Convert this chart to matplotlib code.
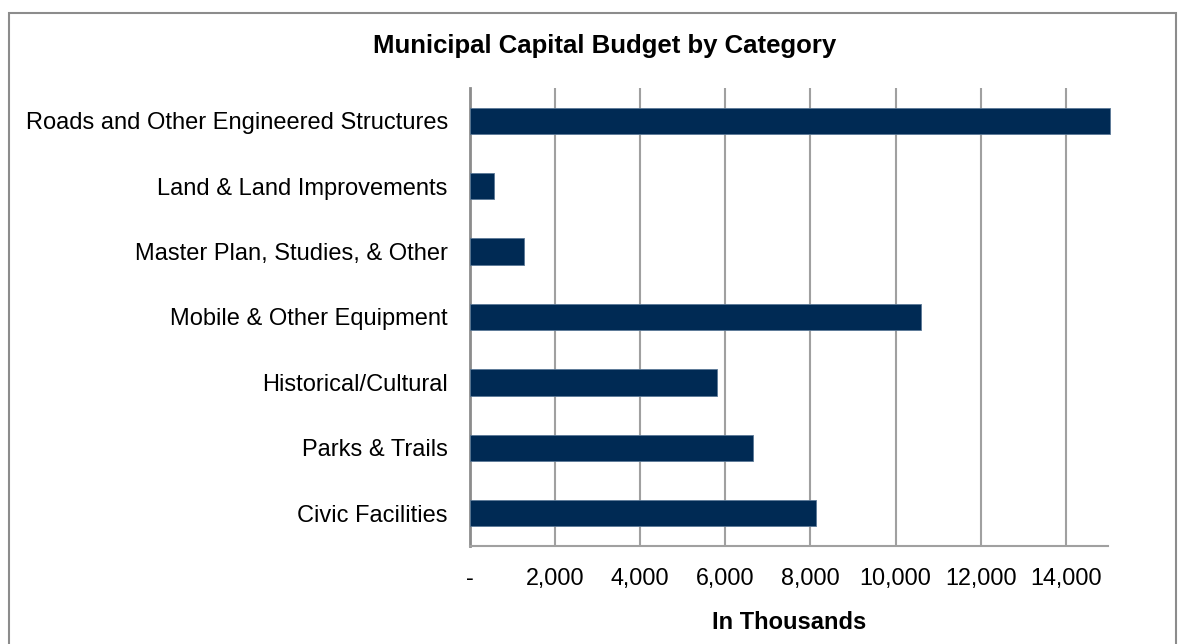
import matplotlib.pyplot as plt
from matplotlib.ticker import FuncFormatter
from matplotlib.patches import Rectangle

plt.rcParams['font.family'] = ['Liberation Sans', 'DejaVu Sans']

# data, top to bottom as shown
categories = ['Roads and Other Engineered Structures', 'Land & Land Improvements',
	'Master Plan, Studies, & Other', 'Mobile & Other Equipment',
	'Historical/Cultural', 'Parks & Trails', 'Civic Facilities']
values = [15050, 570, 1260, 10610, 5810, 6650, 8130]
xticks = [0, 2000, 4000, 6000, 8000, 10000, 12000, 14000]

W, H = 1186, 644
fig = plt.figure(figsize=(W/100, H/100), dpi=100)
ax = fig.add_axes([470/W, 1-546/H, (1108.3-470)/W, (546-88)/H])

ypos = range(len(categories))[::-1]
ax.barh(list(ypos), values, height=0.4, color='#002a54', edgecolor='#5a7896',
	linewidth=0.6, zorder=3, clip_on=False)

ax.set_xlim(0, 15000)
ax.set_ylim(-0.5, len(categories)-0.5)
ax.set_yticks(list(ypos))
ax.set_yticklabels(categories, fontsize=17)
ax.set_xticks(xticks)
ax.xaxis.set_major_formatter(FuncFormatter(lambda v, p: '-' if v == 0 else '{:,.0f}'.format(v)))
ax.tick_params(axis='x', labelsize=16.8, length=0, pad=15)
ax.tick_params(axis='y', length=0, pad=16)
ax.grid(axis='x', color='#a0a0a0', linewidth=1.5, zorder=0)
ax.set_axisbelow(True)

for s in ['top', 'right']:
	ax.spines[s].set_visible(False)
ax.spines['left'].set_color('#8c8c8c')
ax.spines['left'].set_linewidth(2)
ax.spines['bottom'].set_color('#a0a0a0')
ax.spines['bottom'].set_linewidth(1.5)

ax.set_xlabel('In Thousands', fontsize=17, fontweight='bold', labelpad=15)
fig.text(605/W, 1-46/H, 'Municipal Capital Budget by Category', fontsize=18.5,
	fontweight='bold', ha='center', va='center')

# outer chart border
fig.patches.append(Rectangle((9/W, -0.05), (1176-9)/W, 1.05-13/H, transform=fig.transFigure,
	fill=False, edgecolor='#8c8c8c', linewidth=1.5))

plt.savefig('out.png', dpi=100)
